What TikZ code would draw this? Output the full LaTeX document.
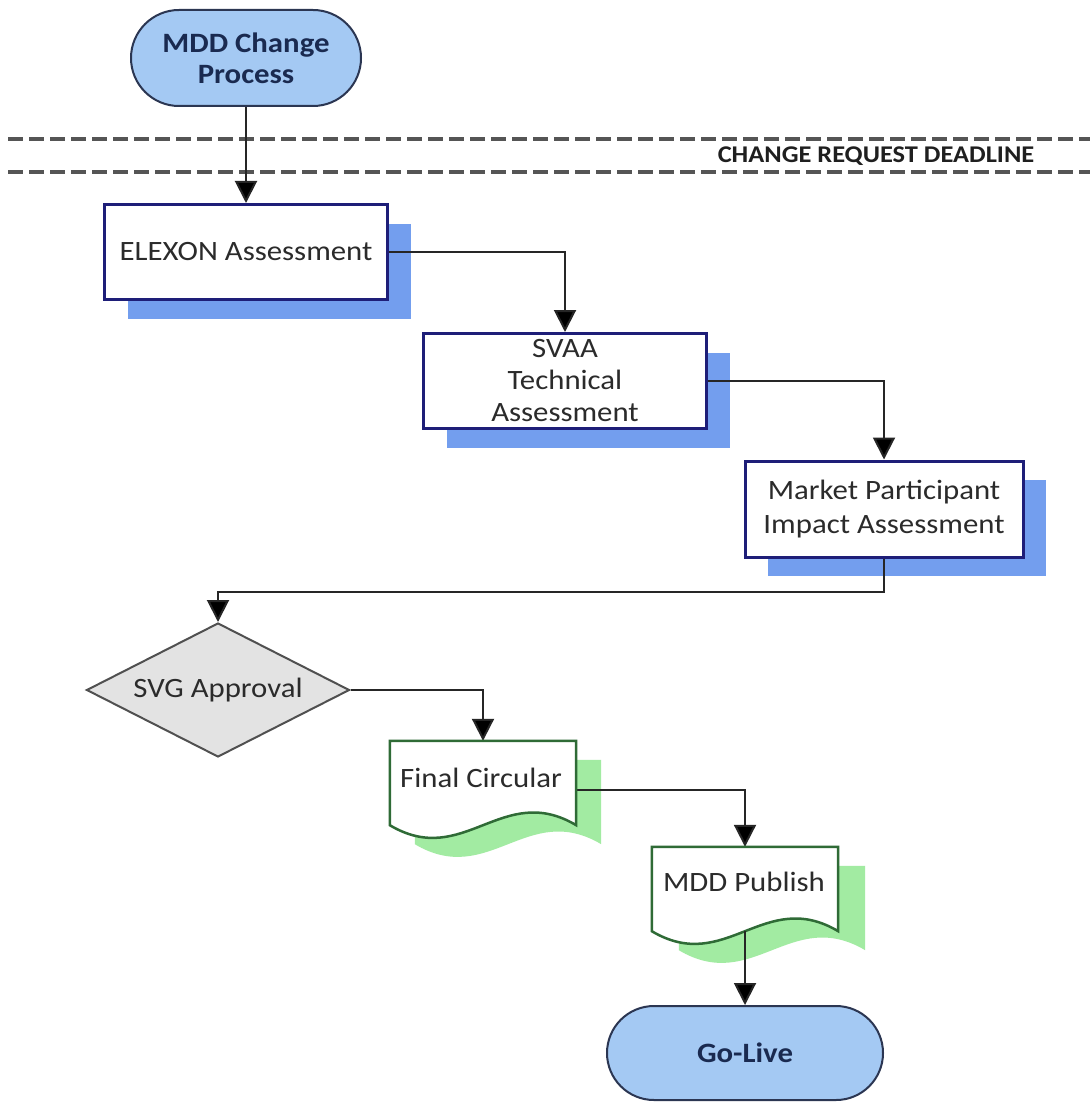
\documentclass[tikz,border=0pt]{standalone}
\usepackage{fontspec}
\setmainfont{Carlito}
\usetikzlibrary{shapes.misc,shapes.geometric,arrows.meta,shadows,calc}
\definecolor{pillfill}{HTML}{A4C9F3}
\definecolor{pilldraw}{HTML}{2B3652}
\definecolor{pilltext}{HTML}{1A2A50}
\definecolor{boxdraw}{HTML}{1E1E78}
\definecolor{shadowblue}{HTML}{739EEE}
\definecolor{greenshadow}{HTML}{A2EBA2}
\definecolor{docdraw}{HTML}{2F6B36}
\definecolor{diafill}{HTML}{E3E3E3}
\definecolor{diadraw}{HTML}{505050}
\definecolor{txtgray}{HTML}{2B2B2B}
\definecolor{conncolor}{HTML}{262626}
\definecolor{dashcolor}{HTML}{555555}
\newcommand\hs[1]{\scalebox{1.1}[1]{#1}}
\newcommand\docpath[3]{($(#1.north west)+(#2,#3)$) -- ($(#1.north east)+(#2,#3)$) -- ($(#1.south east)+(#2,#3)$) .. controls ($(#1.south east)+(#2-74,#3-44)$) and ($(#1.south west)+(#2+74,#3+44)$) .. ($(#1.south west)+(#2,#3)$) -- cycle}
\begin{document}
\begin{tikzpicture}[x=1pt,y=-1pt,
  every node/.style={font=\fontsize{28}{32}\selectfont, text=txtgray},
  pill/.style={rounded rectangle, draw=pilldraw, line width=2pt, fill=pillfill, text=pilltext,
    font=\bfseries\fontsize{28}{31}\selectfont, align=center, inner sep=2pt},
  procbox/.style={rectangle, draw=boxdraw, line width=3pt, fill=white, minimum width=283pt,
    minimum height=95pt, align=center, inner sep=2pt,
    drop shadow={shadow xshift=23pt, shadow yshift=-19pt, fill=shadowblue, opacity=1}},
  decision/.style={diamond, draw=diadraw, fill=diafill, line width=2pt, minimum width=263pt,
    minimum height=134pt, aspect=1.96, inner sep=0pt},
  docanchor/.style={rectangle, minimum width=186pt, minimum height=84pt, inner sep=0pt},
  doctext/.style={inner sep=1pt},
  docshadow/.style={fill=greenshadow},
  docshape/.style={fill=white, draw=docdraw, line width=2.5pt},
  conn/.style={draw=conncolor, line width=2pt, -{Triangle[width=22pt,length=22pt,fill=black]}},
  dashline/.style={draw=dashcolor, line width=3.5pt, dash pattern=on 15pt off 6pt},
  deadlinetext/.style={font=\bfseries\fontsize{24}{28}\selectfont, text=black!88}
]
\useasboundingbox (0,0) rectangle (1090,1102);
\fill[white] (0,0) rectangle (1090,1102);

% deadline band
\draw[dashline] (8,139) -- (1090,139);
\draw[dashline] (8,172) -- (1090,172);
\node[deadlinetext] (deadline) at (876,156) {\hs{CHANGE REQUEST DEADLINE}};

% terminators
\node[pill, minimum width=234pt, minimum height=96pt] (start) at (246,58) {\hs{MDD Change}\\\hs{Process}};
\node[pill, minimum width=280pt, minimum height=94pt] (golive) at (745,1053) {\hs{Go-Live}};

% process boxes
\node[procbox] (elexon) at (246,252) {\hs{ELEXON Assessment}};
\node[procbox] (svaa) at (565,381) {\hs{SVAA}\\\hs{Technical}\\\hs{Assessment}};
\node[procbox, minimum width=278pt, minimum height=96pt, font=\fontsize{28}{34}\selectfont] (market) at (884,509) {\hs{Market Participant}\\\hs{Impact Assessment}};

% decision
\node[decision] (svg) at (218,690) {\hs{SVG Approval}};

% documents
\node[docanchor] (final) at (483,783) {};
\node[docanchor] (publish) at (745,889) {};
\fill[docshadow] \docpath{final}{25}{19};
\fill[docshadow] \docpath{publish}{27}{19};

% connectors
\draw[conn] (start.south) -- (elexon.north);
\draw[conn] (elexon.east) -| (svaa.north);
\draw[conn] (svaa.east) -| (market.north);
\draw[conn] (market.south) -- ++(0,33) -| (svg.north);
\draw[conn] (svg.east) -| (final.north);
\draw[conn] ([yshift=-7pt]final.east) -| (publish.north);

\filldraw[docshape] \docpath{final}{0}{0};
\filldraw[docshape] \docpath{publish}{0}{0};
\node[doctext] (finaltext) at (481,778) {\hs{Final Circular}};
\node[doctext] (publishtext) at (744,882) {\hs{MDD Publish}};

\draw[conn] (publish.south) -- (golive.north);
\end{tikzpicture}
\end{document}
